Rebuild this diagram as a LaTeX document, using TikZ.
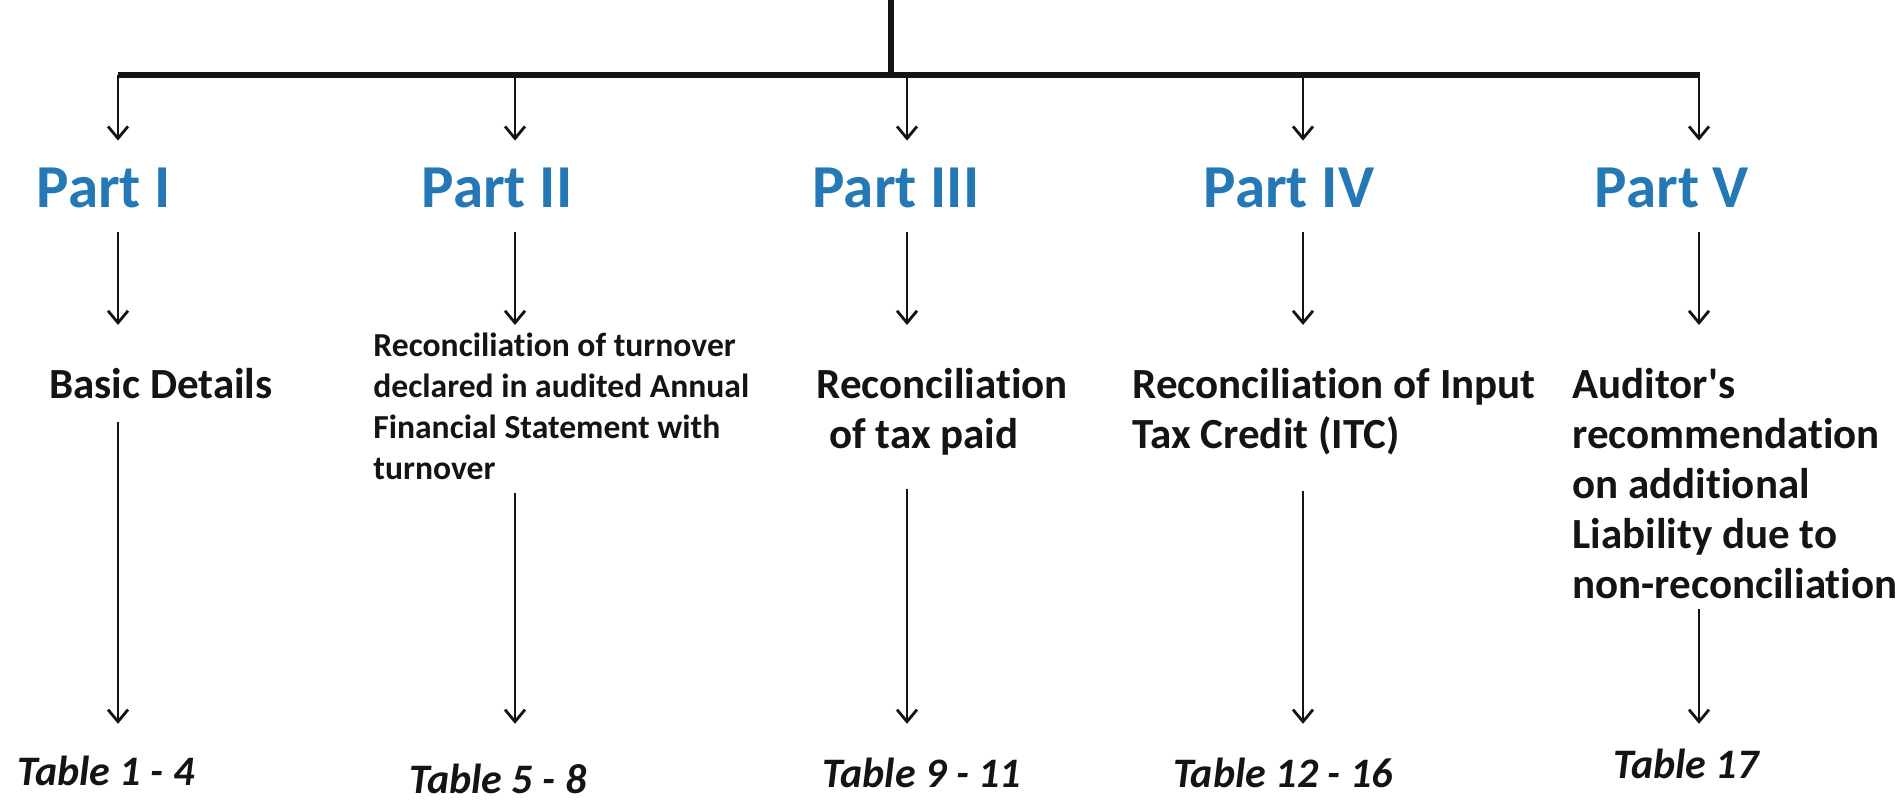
\documentclass[tikz,border=0pt]{standalone}
\usepackage{fontspec}
\setmainfont{Carlito}[Ligatures={TeX,NoCommon}]
\usepackage{tikz}
\usetikzlibrary{arrows.meta, positioning}
\definecolor{partColor}{RGB}{36, 120, 182}
\definecolor{inkColor}{RGB}{20, 20, 20}

\begin{document}
\begin{tikzpicture}[
    x=0.5pt, y=-0.5pt,
    part/.style={anchor=base, inner sep=0pt, text=partColor, text height=19.5pt, text depth=0pt, font=\fontsize{30.5}{36}\selectfont\bfseries},
    detail/.style={anchor=north west, inner sep=0pt, align=left, text=inkColor, font=\fontsize{21.5}{25}\selectfont\bfseries},
    smalldetail/.style={detail, font=\fontsize{16.8}{20.5}\selectfont\bfseries},
    tablabel/.style={anchor=base, inner sep=0pt, text=inkColor, text height=13.4pt, text depth=0pt, font=\fontsize{21}{25}\selectfont\bfseries\itshape},
    trunk/.style={draw=inkColor, line width=2.6pt},
    line/.style={draw=inkColor, line width=1.4pt, -{Straight Barb[length=6pt, width=10pt, line width=1.4pt]}}
]
\useasboundingbox (0,0) rectangle (1904,801);

% Trunk
\coordinate (top) at (891,0);
\coordinate (hub) at (891,75);
\coordinate (barW) at (118,75);
\coordinate (barE) at (1700,75);
\coordinate (c1) at (118,75);
\coordinate (c2) at (515,75);
\coordinate (c3) at (907,75);
\coordinate (c4) at (1303,75);
\coordinate (c5) at (1699,75);

% Nodes
\node (p1) [part] at (104,208) {Part I};
\node (p2) [part] at (497,208) {Part II};
\node (p3) [part] at (896,208) {Part III};
\node (p4) [part] at (1289,208) {Part IV};
\node (p5) [part] at (1672,208) {Part V};

\node (d1) [detail] at (49,368) {Basic Details};
\node (d2) [smalldetail] at (373,333) {Reconciliation of turnover\\declared in audited Annual\\Financial Statement with\\turnover};
\node (d3) [detail] at (816,368) {Reconciliation\\\hspace*{6.5pt}of tax paid};
\node (d4) [detail] at (1132,368) {Reconciliation of Input\\Tax Credit (ITC)};
\node (d5) [detail] at (1572,368) {Auditor\textquotesingle s\\recommendation\\on additional\\Liability due to\\non-reconciliation};

\node (t1) [tablabel] at (106,785) {Table 1 - 4};
\node (t2) [tablabel] at (498,793) {Table 5 - 8};
\node (t3) [tablabel] at (922,787) {Table 9 - 11};
\node (t4) [tablabel] at (1283,787) {Table 12 - 16};
\node (t5) [tablabel] at (1686,778) {Table 17};

% Connectors
\path [trunk] (top) -- (hub);
\path [trunk] (barW) -- (barE);

\path [line, shorten >=14pt] (c1) -- (c1 |- p1.north);
\path [line, shorten >=14pt] (c2) -- (c2 |- p2.north);
\path [line, shorten >=14pt] (c3) -- (c3 |- p3.north);
\path [line, shorten >=14pt] (c4) -- (c4 |- p4.north);
\path [line, shorten >=14pt] (c5) -- (c5 |- p5.north);

\path [line, shorten <=12pt, shorten >=21.5pt] (c1 |- p1.south) -- (c1 |- d1.north);
\path [line, shorten <=12pt, shorten >=4pt] (c2 |- p2.south) -- (c2 |- d2.north);
\path [line, shorten <=12pt, shorten >=21.5pt] (c3 |- p3.south) -- (c3 |- d3.north);
\path [line, shorten <=12pt, shorten >=21.5pt] (c4 |- p4.south) -- (c4 |- d4.north);
\path [line, shorten <=12pt, shorten >=21.5pt] (c5 |- p5.south) -- (c5 |- d5.north);

\path [line, shorten <=11.5pt, shorten >=17pt] (c1 |- d1.south) -- (c1 |- t1.north);
\path [line, shorten <=6pt, shorten >=21pt] (c2 |- d2.south) -- (c2 |- t2.north);
\path [line, shorten <=16.5pt, shorten >=18pt] (c3 |- d3.south) -- (c3 |- t3.north);
\path [line, shorten <=18pt, shorten >=18pt] (c4 |- d4.south) -- (c4 |- t4.north);
\path [line, shorten <=5pt, shorten >=13.5pt] (c5 |- d5.south) -- (c5 |- t5.north);

\end{tikzpicture}
\end{document}
